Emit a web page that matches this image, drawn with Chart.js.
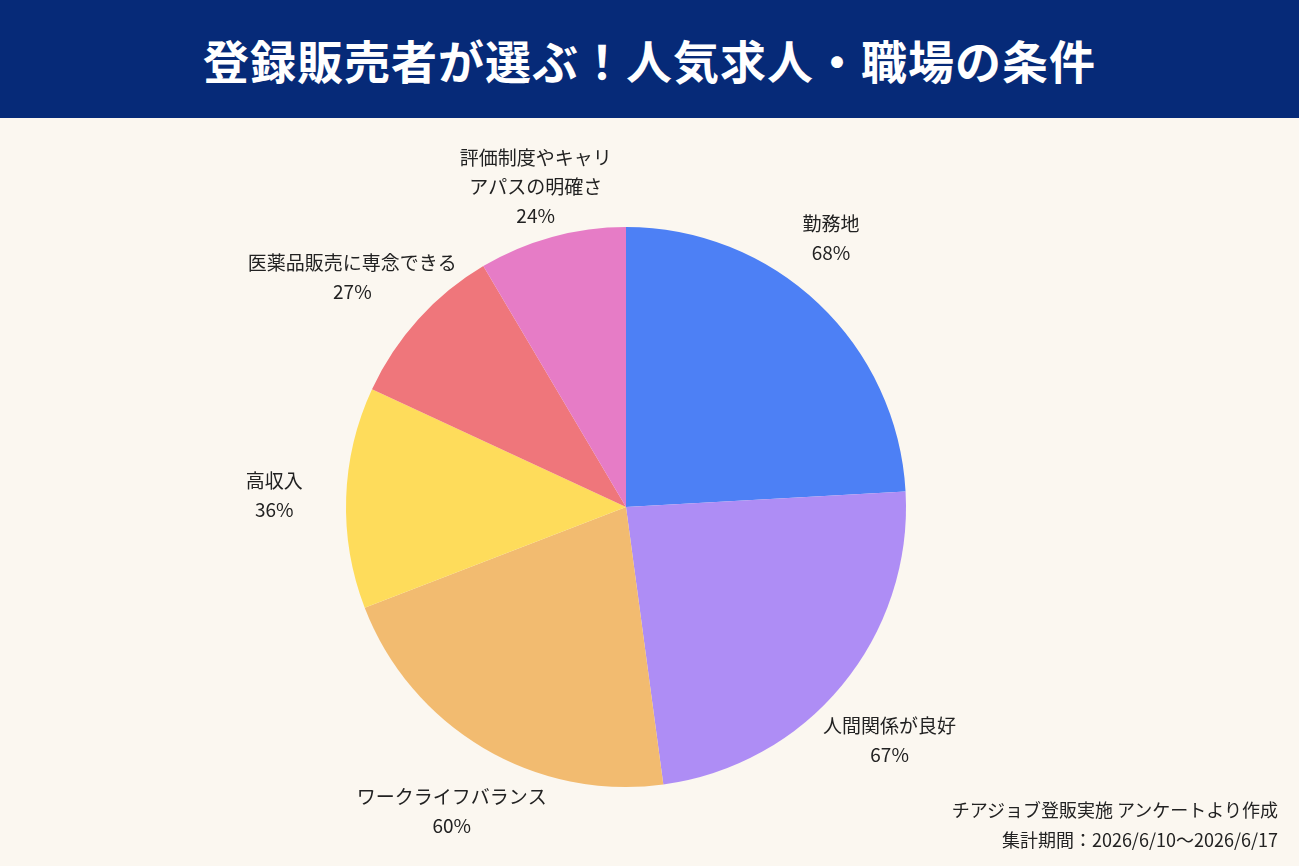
<!DOCTYPE html>
<html><head><meta charset="utf-8">
<script src="https://cdn.jsdelivr.net/npm/chart.js@4"></script>
<style>
body{margin:0;width:1299px;height:866px;background:#fbf7f0;font-family:"Noto Sans CJK JP","Noto Sans",sans-serif;overflow:hidden;position:relative}
#hd{height:118px;background:#062a78;color:#fff;font-weight:bold;font-size:46px;text-align:center;line-height:118px;letter-spacing:1px}
#wrap{position:absolute;top:118px;left:0;width:1299px;height:748px}
#ft{position:absolute;right:21px;top:794px;text-align:right;font-size:18px;color:#222;line-height:30px}
</style></head><body>
<div id="hd">登録販売者が選ぶ！人気求人・職場の条件</div>
<div id="wrap"><canvas id="c"></canvas></div>
<div id="ft">チアジョブ登販実施 アンケートより作成<br>集計期間：2026/6/10〜2026/6/17</div>
<script>
const categories=[["勤務地"],["人間関係が良好"],["ワークライフバランス"],["高収入"],["医薬品販売に専念できる"],["評価制度やキャリ","アパスの明確さ"]];
const values=[68,67,60,36,27,24];
const colors=["#4d80f5","#ae8df5","#f2bb70","#fedc5b","#ef767b","#e67cc6"];
const offsets=[[-30,-20],[0,15],[0,10],[-10,0],[-20,0],[0,10]];
const labelPlugin={id:'lbl',afterDraw(ch){
 const ctx=ch.ctx;const meta=ch.getDatasetMeta(0);
 ctx.save();ctx.fillStyle='#222';ctx.font='19px "Noto Sans CJK JP"';ctx.textAlign='center';ctx.textBaseline='middle';
 meta.data.forEach((a,i)=>{
  const mid=(a.startAngle+a.endAngle)/2;const r=a.outerRadius+62;
  const lines=categories[i].concat([values[i]+'%']);
  const x=a.x+Math.cos(mid)*r+offsets[i][0];const y=a.y+Math.sin(mid)*r+offsets[i][1];
  const lh=29;const y0=y-(lines.length-1)*lh/2;
  lines.forEach((t,j)=>ctx.fillText(t,x,y0+j*lh));
 });ctx.restore();}};
new Chart(document.getElementById('c'),{type:'pie',
 data:{labels:categories.map(c=>c.join('')),datasets:[{data:values,backgroundColor:colors,borderWidth:0}]},
 options:{responsive:true,maintainAspectRatio:false,animation:false,
  layout:{padding:{left:346,right:393,top:109,bottom:79}},
  plugins:{legend:{display:false},tooltip:{enabled:false}}},
 plugins:[labelPlugin]});
</script></body></html>
